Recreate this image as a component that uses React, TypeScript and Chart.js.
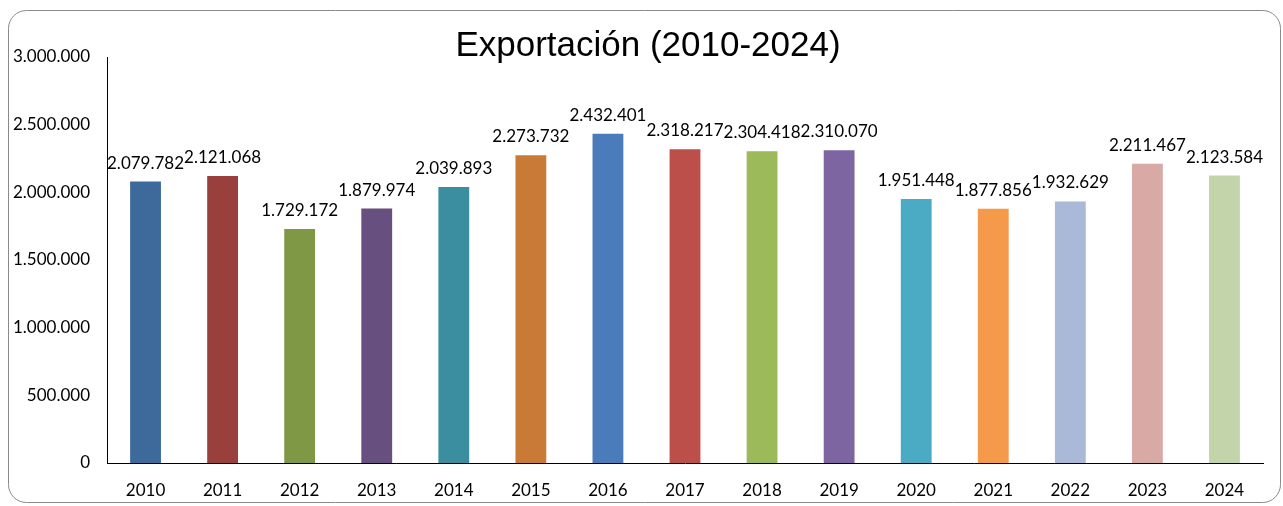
import React, { useEffect, useRef } from "react";
import { Chart, registerables } from "chart.js";

Chart.register(...registerables);

const categories = ["2010","2011","2012","2013","2014","2015","2016","2017","2018","2019","2020","2021","2022","2023","2024"];
const values = [2079782, 2121068, 1729172, 1879974, 2039893, 2273732, 2432401, 2318217, 2304418, 2310070, 1951448, 1877856, 1932629, 2211467, 2123584];
const barColors = ["#3D6A9B","#9A403C","#7E9845","#674F80","#3A8E9F","#C97A36","#4A7CBB","#BD4F4B","#9CBA59","#7D65A1","#4BABC5","#F59A4A","#AAB9D8","#D8A9A5","#C4D4AA"];
const titleText = "Exportación (2010-2024)";

const fmt = (v: number) => v.toString().replace(/\B(?=(\d{3})+(?!\d))/g, ".");

const FONT = "Lato";

const framePlugin = {
  id: "frame",
  beforeDraw(chart: any) {
    const ctx = chart.ctx;
    ctx.save();
    ctx.fillStyle = "#ffffff";
    ctx.fillRect(0, 0, chart.width, chart.height);
    const x = 8.5, y = 10.5, w = chart.width - 11, h = chart.height - 14, r = 18;
    ctx.beginPath();
    ctx.moveTo(x + r, y);
    ctx.lineTo(x + w - r, y);
    ctx.arcTo(x + w, y, x + w, y + r, r);
    ctx.lineTo(x + w, y + h - r);
    ctx.arcTo(x + w, y + h, x + w - r, y + h, r);
    ctx.lineTo(x + r, y + h);
    ctx.arcTo(x, y + h, x, y + h - r, r);
    ctx.lineTo(x, y + r);
    ctx.arcTo(x, y, x + r, y, r);
    ctx.closePath();
    ctx.strokeStyle = "#8a8a8a";
    ctx.lineWidth = 1;
    ctx.stroke();
    ctx.restore();
  },
  afterDraw(chart: any) {
    const ctx = chart.ctx;
    ctx.save();
    ctx.fillStyle = "#000000";
    ctx.font = `35px "Liberation Sans", Arial, sans-serif`;
    ctx.textAlign = "center";
    ctx.textBaseline = "middle";
    ctx.fillText(titleText, 648, 46);

    ctx.font = `17px ${FONT}, sans-serif`;
    ctx.textBaseline = "alphabetic";
    const meta = chart.getDatasetMeta(0);
    meta.data.forEach((bar: any, i: number) => {
      ctx.fillText(fmt(values[i]), bar.x, bar.y - 13);
    });
    ctx.restore();
  },
};

export default function App() {
  const ref = useRef<HTMLCanvasElement | null>(null);
  useEffect(() => {
    if (!ref.current) return;
    const chart = new Chart(ref.current, {
      type: "bar",
      data: {
        labels: categories,
        datasets: [
          {
            data: values,
            backgroundColor: barColors,
            borderWidth: 0,
            categoryPercentage: 1,
            barPercentage: 0.4,
          },
        ],
      },
      options: {
        animation: false,
        responsive: false,
        maintainAspectRatio: false,
        layout: { padding: { top: 57, right: 20, left: 0, bottom: 0 } },
        plugins: {
          legend: { display: false },
          title: { display: false },
          tooltip: { enabled: false },
        },
        scales: {
          x: {
            grid: { display: false, drawTicks: false },
            border: { display: true, color: "#000000", width: 1 },
            ticks: { color: "#000000", font: { family: FONT, size: 17 }, padding: 17, maxRotation: 0 },
            afterFit: (s: any) => { s.height = 43; },
          },
          y: {
            min: 0,
            max: 3000000,
            grid: { display: false, drawTicks: false },
            border: { display: true, color: "#000000", width: 1 },
            ticks: {
              stepSize: 500000,
              color: "#000000",
              font: { family: FONT, size: 17 },
              padding: 17,
              callback: (v: any) => fmt(Number(v)),
            },
            afterFit: (s: any) => { s.width = 107; },
          },
        },
      },
      plugins: [framePlugin],
    });
    return () => chart.destroy();
  }, []);
  return (
    <div style={{ position: "fixed", left: 0, top: 0, width: 1283, height: 506 }}>
      <canvas ref={ref} width={1283} height={506} style={{ display: "block" }} />
    </div>
  );
}
